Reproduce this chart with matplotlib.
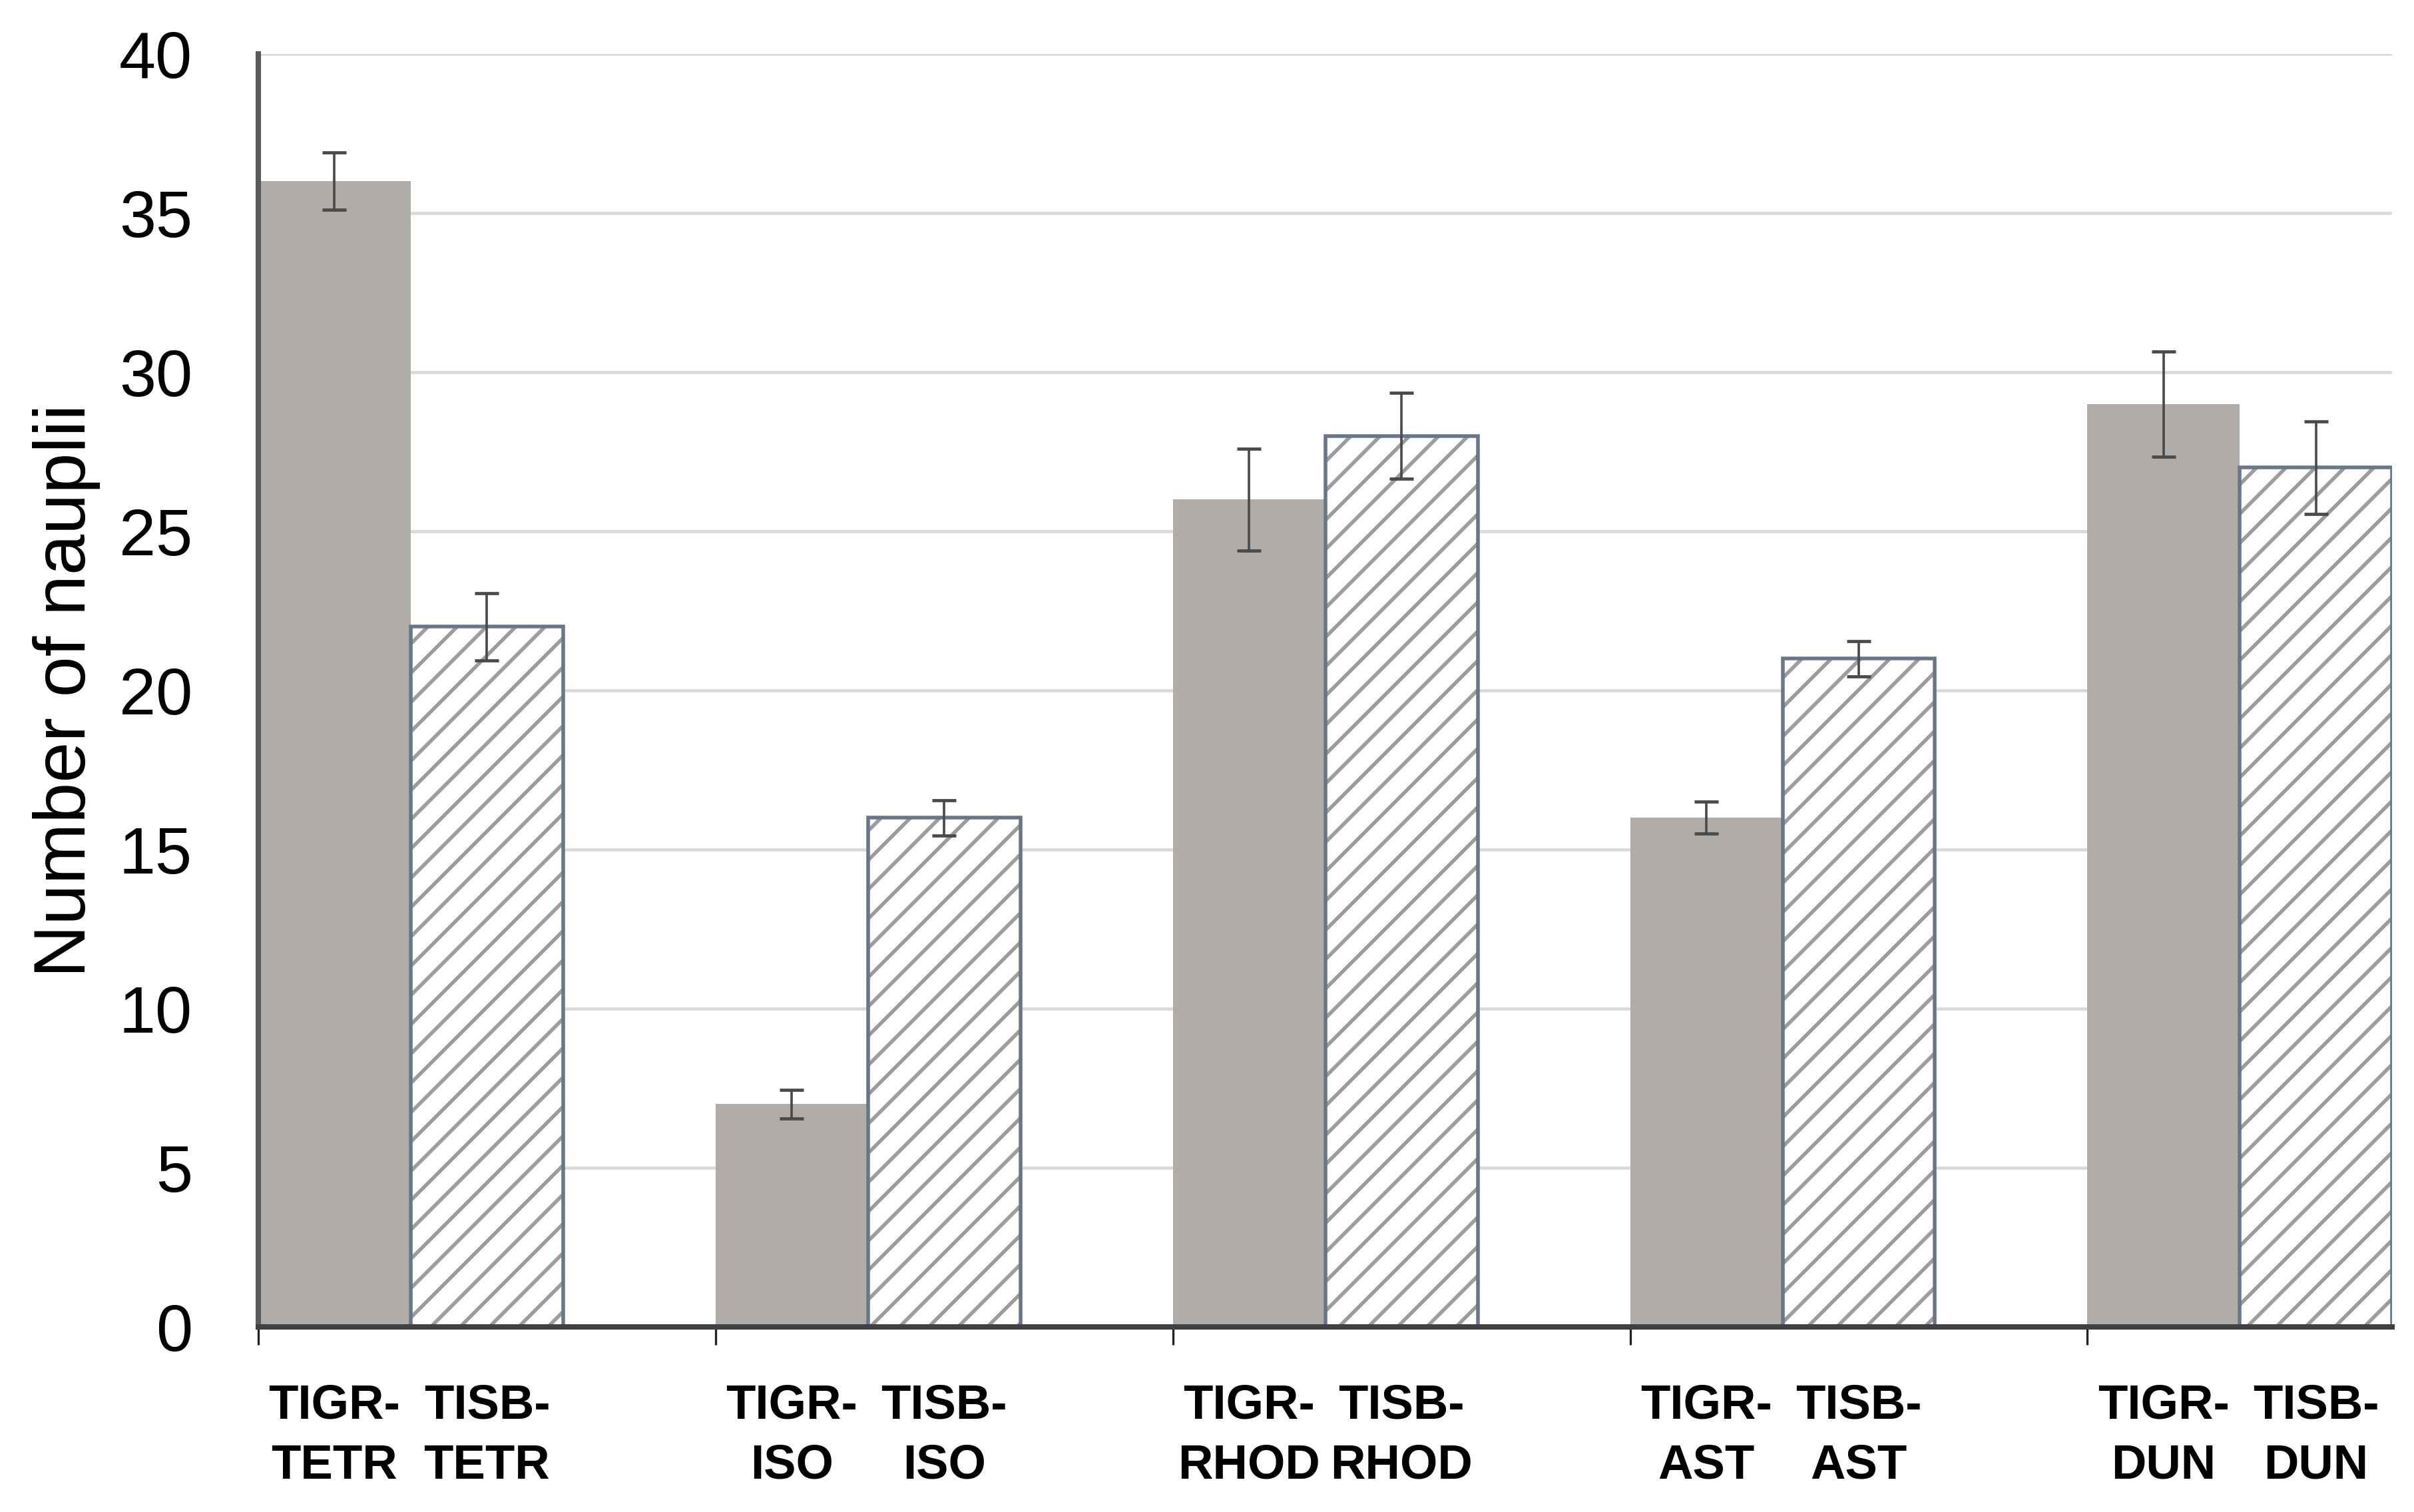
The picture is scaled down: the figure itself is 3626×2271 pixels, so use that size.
import matplotlib
matplotlib.use("Agg")
import matplotlib.pyplot as plt
import numpy as np

# data
diets = ["TETR", "ISO", "RHOD", "AST", "DUN"]
tigr_mean = [36, 7, 26, 16, 29]
tigr_err = [0.9, 0.45, 1.6, 0.5, 1.65]
tisb_mean = [22, 16, 28, 21, 27]
tisb_err = [1.05, 0.55, 1.35, 0.55, 1.45]
y_ticks = [0, 5, 10, 15, 20, 25, 30, 35, 40]

DPI = 264
fig = plt.figure(figsize=(3626 / DPI, 2271 / DPI), dpi=DPI)
ax = fig.add_axes([0.107, 0.1224, 0.884, 0.8419])

plt.rcParams["hatch.linewidth"] = 1.5

# each group takes 3 bar widths: two bars then a gap
start = np.arange(len(diets)) * 3
x_tigr = start + 0.5
x_tisb = start + 1.5

ax.bar(x_tigr, tigr_mean, width=1.0, color="#b0aca9", linewidth=0, zorder=2)
ax.bar(x_tisb, tisb_mean, width=1.0, color="white", edgecolor="#9c9c9c",
       hatch="//", linewidth=0, zorder=2)
ax.bar(x_tisb, tisb_mean, width=1.0, fill=False, edgecolor="#68768a",
       linewidth=1.5, zorder=3)

# capsize is half the cap length in points
err_style = dict(fmt="none", ecolor="#4a4a4a", elinewidth=1.0, capsize=5,
                 capthick=1.3, zorder=4)
ax.errorbar(x_tigr, tigr_mean, yerr=tigr_err, **err_style)
ax.errorbar(x_tisb, tisb_mean, yerr=tisb_err, **err_style)

ax.set_xlim(0, 14)
ax.set_ylim(0, 40)
ax.set_yticks(y_ticks)
ax.yaxis.grid(True, color="#d9d9d9", linewidth=1.25, zorder=0)
ax.set_axisbelow(True)

for side in ["top", "right"]:
    ax.spines[side].set_visible(False)
ax.spines["left"].set_color("#595959")
ax.spines["left"].set_linewidth(2.2)
ax.spines["bottom"].set_color("#404040")
ax.spines["bottom"].set_linewidth(2.2)
ax.spines["bottom"].set_zorder(5)

ax.tick_params(axis="y", length=0, pad=27, labelsize=27)
for lab in ax.get_yticklabels():
    lab.set_fontfamily("Liberation Sans")

# major ticks mark group boundaries, minor ticks carry the bar labels
ax.set_xticks(start)
ax.set_xticklabels([])
ax.tick_params(axis="x", which="major", length=7.4, width=0.9,
               color="#222222", direction="out")
bar_pos = np.sort(np.concatenate([x_tigr, x_tisb]))
bar_labels = []
for d in diets:
    bar_labels += ["TIGR-\n" + d, "TISB-\n" + d]
ax.set_xticks(bar_pos, minor=True)
ax.set_xticklabels(bar_labels, minor=True, fontsize=19.8, fontweight="bold",
                   fontfamily="Liberation Sans", linespacing=1.42,
                   multialignment="center")
ax.tick_params(axis="x", which="minor", length=0, pad=23)

ax.set_ylabel("Number of nauplii", fontsize=30, fontfamily="Liberation Sans")
ax.yaxis.set_label_coords(-0.074, 0.5)

fig.savefig("out.png", dpi=DPI)
